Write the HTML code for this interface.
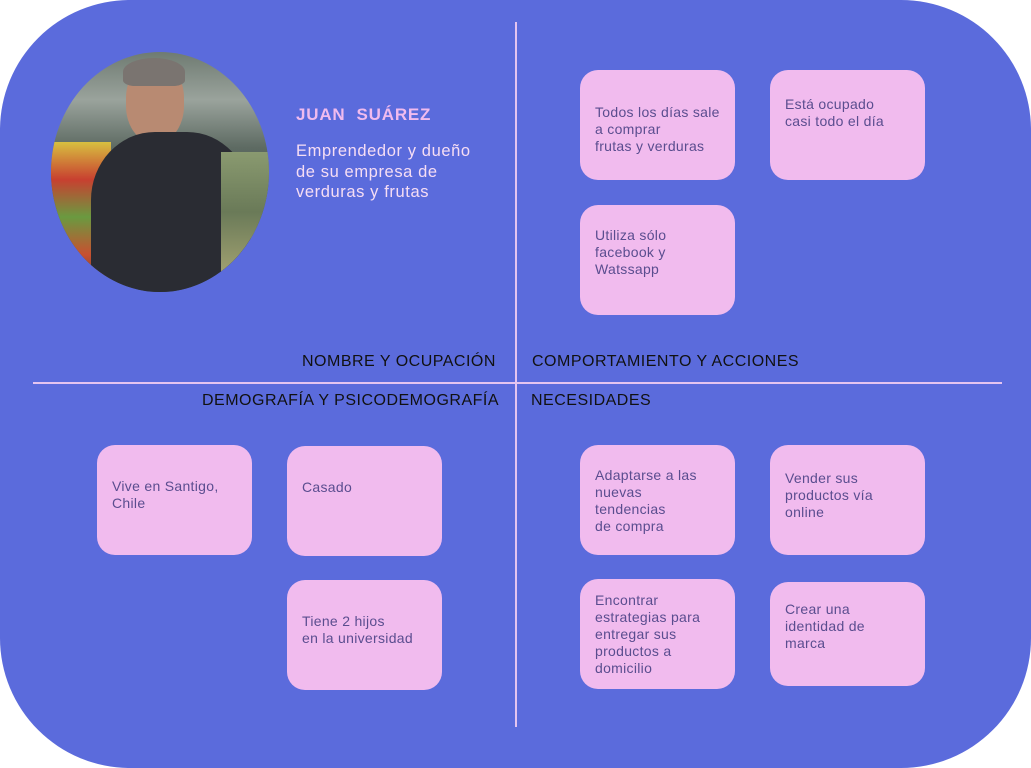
<!DOCTYPE html>
<html><head><meta charset="utf-8"><style>
html,body{margin:0;padding:0;background:#fff;}
body{width:1031px;height:768px;position:relative;overflow:hidden;font-family:"Liberation Sans",sans-serif;}
.bg{position:absolute;left:0;top:0;width:1031px;height:768px;background:#5B6BDC;border-radius:130px;}
.v{position:absolute;left:515px;top:22px;width:2px;height:705px;background:#E4C4F0;}
.h{position:absolute;left:33px;top:382px;width:969px;height:2px;background:#E4C4F0;}
.card{position:absolute;width:155px;height:110px;background:#F1BBEE;border-radius:18px;color:#5A4D8F;font-size:14px;letter-spacing:0.3px;line-height:17px;box-sizing:border-box;padding-left:15px;white-space:nowrap;}
.lbl{position:absolute;color:#111;font-size:16px;letter-spacing:0.5px;white-space:nowrap;}
.photo{position:absolute;left:51px;top:52px;width:218px;height:240px;border-radius:50%;overflow:hidden;background:linear-gradient(180deg,#6f7b72 0%,#9aa39c 20%,#5d6a62 40%,#4b5a4f 60%,#3d4a3f 100%);}
</style></head><body>
<div class="bg"></div>
<div class="v"></div><div class="h"></div>
<div class="photo">
 <div style="position:absolute;left:0;top:90px;width:60px;height:150px;background:linear-gradient(180deg,#d8c040 0%,#c84030 25%,#6a9a40 50%,#c85030 75%,#504030 100%);"></div>
 <div style="position:absolute;left:75px;top:10px;width:58px;height:80px;border-radius:45%;background:#b88a72;"></div>
 <div style="position:absolute;left:72px;top:6px;width:62px;height:28px;border-radius:50% 50% 20% 20%;background:#7a7470;"></div>
 <div style="position:absolute;left:40px;top:80px;width:160px;height:170px;border-radius:40% 40% 0 0;background:#2a2c33;"></div>
 <div style="position:absolute;left:170px;top:100px;width:48px;height:120px;background:linear-gradient(180deg,#8a9a70,#6a7a58,#a0a070);"></div>
</div>
<div style="position:absolute;left:296px;top:105px;color:#F1BBEE;font-weight:bold;font-size:17px;letter-spacing:0.8px;">JUAN&nbsp; SUÁREZ</div>
<div style="position:absolute;left:296px;top:141px;color:#F6DDF4;font-size:16.5px;letter-spacing:0.6px;line-height:20.5px;white-space:nowrap;">Emprendedor y dueño<br>de su empresa de<br>verduras y frutas</div>
<div class="lbl" style="left:302px;top:353px;">NOMBRE Y OCUPACIÓN</div>
<div class="lbl" style="left:532px;top:353px;">COMPORTAMIENTO Y ACCIONES</div>
<div class="lbl" style="left:202px;top:392px;">DEMOGRAFÍA Y PSICODEMOGRAFÍA</div>
<div class="lbl" style="left:531px;top:392px;">NECESIDADES</div>
<div class="card" style="left:580px;top:70px;padding-top:34px;">Todos los días sale<br>a comprar<br>frutas y verduras</div>
<div class="card" style="left:770px;top:70px;padding-top:26px;">Está ocupado<br>casi todo el día</div>
<div class="card" style="left:580px;top:205px;padding-top:22px;">Utiliza sólo<br>facebook y<br>Watssapp</div>
<div class="card" style="left:97px;top:445px;padding-top:33px;">Vive en Santigo,<br>Chile</div>
<div class="card" style="left:287px;top:446px;padding-top:33px;">Casado</div>
<div class="card" style="left:287px;top:580px;padding-top:33px;">Tiene 2 hijos<br>en la universidad</div>
<div class="card" style="left:580px;top:445px;padding-top:22px;">Adaptarse a las<br>nuevas<br>tendencias<br>de compra</div>
<div class="card" style="left:770px;top:445px;padding-top:25px;">Vender sus<br>productos vía<br>online</div>
<div class="card" style="left:580px;top:579px;padding-top:13px;">Encontrar<br>estrategias para<br>entregar sus<br>productos a<br>domicilio</div>
<div class="card" style="left:770px;top:582px;height:104px;padding-top:19px;">Crear una<br>identidad de<br>marca</div>
</body></html>
